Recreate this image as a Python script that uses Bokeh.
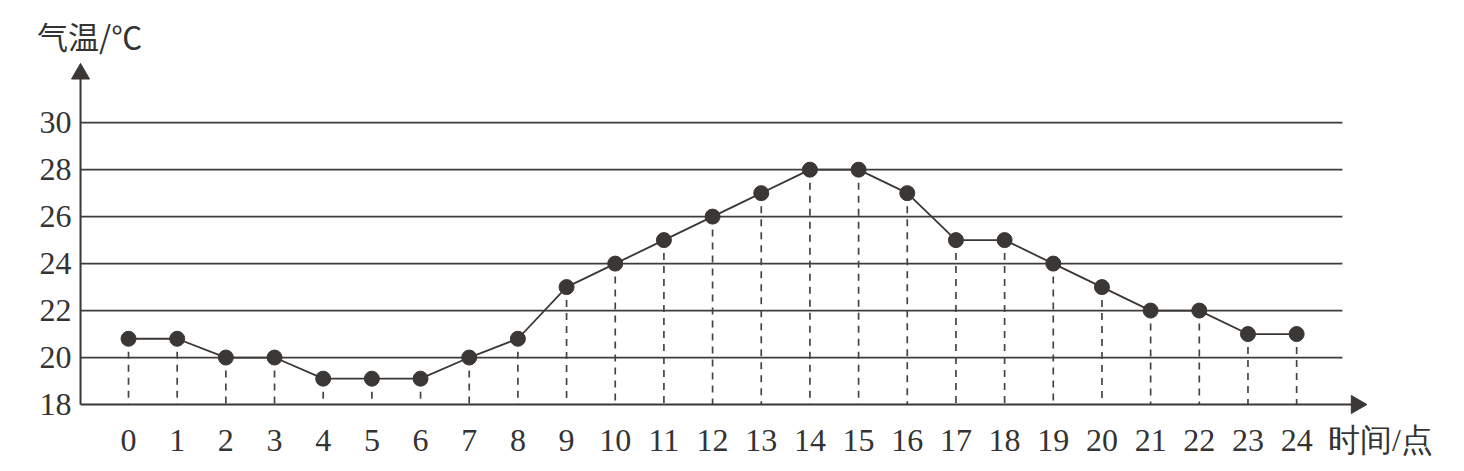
import math
from bokeh.plotting import figure
from bokeh.models import FixedTicker, ColumnDataSource, Range1d, LinearAxis
from bokeh.embed import file_html
from bokeh.resources import INLINE

hours = list(range(25))
temps = [20.8, 20.8, 20.0, 20.0, 19.1, 19.1, 19.1, 20.0, 20.8, 23.0, 24.0, 25.0, 26.0,
         27.0, 28.0, 28.0, 27.0, 25.0, 25.0, 24.0, 23.0, 22.0, 22.0, 21.0, 21.0]
y_ticks = [18, 20, 22, 24, 26, 28, 30]
x_tick_labels = [str(h) for h in hours]
y_label = "气温/℃"
x_label = "时间/点"
X_LABEL_POS = 25.72
Y_LABEL_POS = -0.80

X_AXIS = -0.986      # x where the vertical axis stands
Y_AXIS = 18.0        # y where the horizontal axis lies
X0, X1 = -1.192, 27.12
Y0, Y1 = 17.575, 32.86
GRID_END = 24.94
XHEAD = 25.23
YHEAD = 32.08

p = figure(width=1448, height=460, output_backend="svg", toolbar_location=None,
           x_range=Range1d(X0, X1), y_range=Range1d(Y0, Y1),
           min_border_left=70, min_border_right=0, min_border_top=55, min_border_bottom=40)
p.outline_line_color = None
p.grid.visible = False
p.background_fill_color = "white"
p.border_fill_color = "white"

ink = "#3a3735"

bottom_axis = p.below[0]
left_axis = p.left[0]

# caption of the y axis, as the single label of an axis above the plot
top_axis = LinearAxis(ticker=FixedTicker(ticks=[Y_LABEL_POS]),
                      major_label_overrides={Y_LABEL_POS: y_label})
top_axis.axis_line_color = None
top_axis.major_tick_line_color = None
top_axis.minor_tick_line_color = None
top_axis.major_label_text_font = "Noto Sans CJK SC"
top_axis.major_label_text_font_size = "31px"
top_axis.major_label_text_color = "#333333"
top_axis.major_label_standoff = -8
p.add_layout(top_axis, "above")

# axes (labels only)
for ax in (bottom_axis, left_axis):
    ax.axis_line_color = None
    ax.major_tick_line_color = None
    ax.minor_tick_line_color = None
    ax.major_label_text_font = "Liberation Serif"
    ax.major_label_text_font_size = "32px"
    ax.major_label_text_color = "#333333"
xt = hours + [X_LABEL_POS]
bottom_axis.ticker = FixedTicker(ticks=xt)
overrides = {h: s for h, s in zip(hours, x_tick_labels)}
overrides[X_LABEL_POS] = x_label
bottom_axis.major_label_overrides = overrides
bottom_axis.major_label_standoff = 1
left_axis.ticker = FixedTicker(ticks=y_ticks)
left_axis.major_label_standoff = -7

# horizontal grid lines
gy = y_ticks[1:]
p.segment(x0=[X_AXIS] * len(gy), y0=gy, x1=[GRID_END] * len(gy), y1=gy,
          line_color="#3c3c3c", line_width=1.8)

# dashed drop lines
p.segment(x0=hours, y0=temps, x1=hours, y1=[Y_AXIS] * len(hours),
          line_color="#444444", line_width=1.7, line_dash="7 6")

# axis lines with arrow heads
p.segment(x0=[X_AXIS, X_AXIS], y0=[Y_AXIS, Y_AXIS], x1=[XHEAD, X_AXIS], y1=[Y_AXIS, YHEAD],
          line_color=ink, line_width=2)
p.scatter(x=[XHEAD, X_AXIS], y=[Y_AXIS, YHEAD], marker="triangle", size=18,
          angle=[-math.pi / 2, 0], fill_color=ink, line_color=ink)

src = ColumnDataSource(dict(x=hours, y=temps))
p.line("x", "y", source=src, line_color=ink, line_width=1.8)
p.scatter("x", "y", source=src, size=15, fill_color=ink, line_color=ink)

open("out.html", "w").write(file_html(p, INLINE))
